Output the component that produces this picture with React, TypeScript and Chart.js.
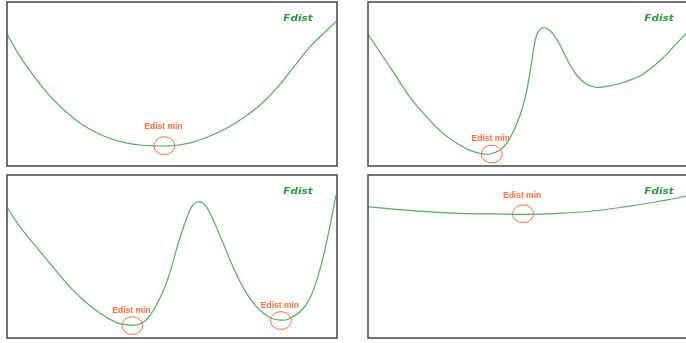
import React, { useEffect, useRef } from "react";
import { Chart, registerables } from "chart.js";

Chart.register(...registerables);

// ---- Data (x: 0..10 reaction coordinate, y: 0..10 energy) ----
// Panel 1: single well
const p1X = [0, 0.39, 0.85, 1.3, 1.76, 2.21, 2.67, 3.12, 3.58, 4.03, 4.48, 4.76, 5.09, 5.64, 6.15, 6.67, 7.15, 7.67, 8.18, 8.67, 9.18, 9.7, 10];
const p1Y = [8.05, 6.68, 5.39, 4.27, 3.35, 2.62, 2.07, 1.68, 1.43, 1.28, 1.23, 1.22, 1.25, 1.46, 1.83, 2.32, 2.93, 3.72, 4.76, 5.98, 7.26, 8.29, 8.84];
const p1MinX = [4.77];
const p1MinY = [1.24];

// Panel 2: deep well, barrier, shallow well
const p2X = [0, 0.76, 1.26, 1.77, 2.27, 2.78, 3.09, 3.39, 3.7, 4.0, 4.2, 4.4, 4.61, 4.76, 4.86, 4.96, 5.06, 5.16, 5.33, 5.52, 5.72, 5.92, 6.12, 6.32, 6.58, 6.88, 7.23, 7.64, 8.0, 8.33, 8.84, 9.34, 9.64, 10];
const p2Y = [8.03, 5.75, 4.23, 3.01, 1.99, 1.28, 0.95, 0.77, 0.73, 0.98, 1.38, 2.09, 3.11, 4.13, 5.14, 6.36, 7.58, 8.19, 8.43, 8.25, 7.72, 6.97, 6.16, 5.55, 5.04, 4.8, 4.86, 5.03, 5.28, 5.6, 6.4, 7.45, 8.09, 9.0];
const p2MinX = [3.75];
const p2MinY = [0.73];

// Panel 3: double well
const p3X = [0, 0.39, 0.8, 1.3, 1.81, 2.31, 2.82, 3.32, 3.7, 3.93, 4.18, 4.38, 4.58, 4.79, 4.99, 5.19, 5.39, 5.6, 5.8, 6.0, 6.25, 6.51, 6.76, 7.01, 7.26, 7.52, 7.77, 8.02, 8.27, 8.52, 8.88, 9.18, 9.48, 9.74, 9.97];
const p3Y = [8.02, 6.83, 5.81, 4.58, 3.35, 2.33, 1.52, 0.94, 0.8, 0.8, 1.04, 1.52, 2.23, 3.15, 4.37, 5.81, 7.04, 8.06, 8.36, 8.16, 7.24, 6.01, 4.79, 3.66, 2.74, 2.02, 1.52, 1.21, 1.1, 1.15, 1.61, 2.44, 4.17, 6.42, 8.77];
const p3MinX = [3.8, 8.3];
const p3MinY = [0.76, 1.07];

// Panel 4: nearly flat
const p4X = [0, 0.76, 1.77, 2.78, 3.79, 4.7, 5.81, 6.82, 7.83, 8.84, 9.64, 10];
const p4Y = [8.06, 7.91, 7.75, 7.65, 7.61, 7.59, 7.65, 7.79, 8.06, 8.39, 8.71, 8.96];
const p4MinX = [4.7];
const p4MinY = [7.62];

const CURVE_LABEL = "Fdist";
const MIN_LABEL = "Edist min";

const GREEN = "#52ad62";
const LABEL_GREEN = "#2b9a3c";
const ORANGE = "#ff6f3c";
const FRAME = "#464646";

type PanelProps = {
  left: number;
  top: number;
  width: number;
  height: number;
  xs: number[];
  ys: number[];
  minXs: number[];
  minYs: number[];
  labelOffset: number;
};

function Panel({ left, top, width, height, xs, ys, minXs, minYs, labelOffset }: PanelProps) {
  const ref = useRef<HTMLCanvasElement>(null);
  const pad = 3;
  useEffect(() => {
    const overlay = {
      id: "overlay",
      afterDatasetsDraw(chart: any) {
        const ctx = chart.ctx as CanvasRenderingContext2D;
        const a = chart.chartArea;
        const sx = chart.scales.x;
        const sy = chart.scales.y;
        ctx.save();
        // frame
        ctx.strokeStyle = FRAME;
        ctx.lineWidth = 1.5;
        ctx.strokeRect(a.left, a.top, a.right - a.left, a.bottom - a.top);
        // minima markers
        ctx.strokeStyle = ORANGE;
        ctx.fillStyle = ORANGE;
        ctx.lineWidth = 1;
        ctx.font = 'bold 8.5px "Liberation Sans", Arial, sans-serif';
        ctx.textAlign = "center";
        ctx.textBaseline = "middle";
        minXs.forEach((mx, i) => {
          const px = sx.getPixelForValue(mx);
          const py = sy.getPixelForValue(minYs[i]);
          ctx.beginPath();
          ctx.ellipse(px, py, 10.5, 8.9, 0, 0, Math.PI * 2);
          ctx.stroke();
          ctx.fillText(MIN_LABEL, px - 1, py - labelOffset);
        });
        // curve label
        ctx.fillStyle = LABEL_GREEN;
        ctx.font = 'italic bold 8px "DejaVu Sans", sans-serif';
        ctx.translate(a.right - 39, a.top + 16.5);
        ctx.scale(1.3, 1);
        ctx.fillText(CURVE_LABEL, 0, 0);
        ctx.restore();
      },
    };
    const chart = new Chart(ref.current as HTMLCanvasElement, {
      type: "line",
      data: {
        datasets: [
          {
            data: xs.map((x, i) => ({ x, y: ys[i] })),
            borderColor: GREEN,
            borderWidth: 1.2,
            pointRadius: 0,
            tension: 0.4,
            fill: false,
          },
        ],
      },
      options: {
        responsive: false,
        animation: false,
        devicePixelRatio: 1,
        events: [],
        layout: { padding: pad },
        plugins: { legend: { display: false }, tooltip: { enabled: false } },
        scales: {
          x: { type: "linear", min: 0, max: 10, display: false },
          y: { type: "linear", min: 0, max: 10, display: false },
        },
      },
      plugins: [overlay],
    } as any);
    return () => chart.destroy();
  }, []);
  return (
    <canvas
      ref={ref}
      width={width + 2 * pad}
      height={height + 2 * pad}
      style={{
        position: "absolute",
        left: left - pad,
        top: top - pad,
        width: width + 2 * pad,
        height: height + 2 * pad,
      }}
    />
  );
}

export default function App() {
  return (
    <div
      style={{
        position: "fixed",
        left: 0,
        top: 0,
        width: 686,
        height: 343,
        overflow: "hidden",
        background: "#fff",
      }}
    >
      <Panel left={7} top={2} width={330} height={164} xs={p1X} ys={p1Y} minXs={p1MinX} minYs={p1MinY} labelOffset={19.5} />
      <Panel left={368} top={2} width={330} height={164} xs={p2X} ys={p2Y} minXs={p2MinX} minYs={p2MinY} labelOffset={15.7} />
      <Panel left={7} top={175} width={330} height={163} xs={p3X} ys={p3Y} minXs={p3MinX} minYs={p3MinY} labelOffset={14.7} />
      <Panel left={368} top={175} width={330} height={163} xs={p4X} ys={p4Y} minXs={p4MinX} minYs={p4MinY} labelOffset={17.7} />
    </div>
  );
}
